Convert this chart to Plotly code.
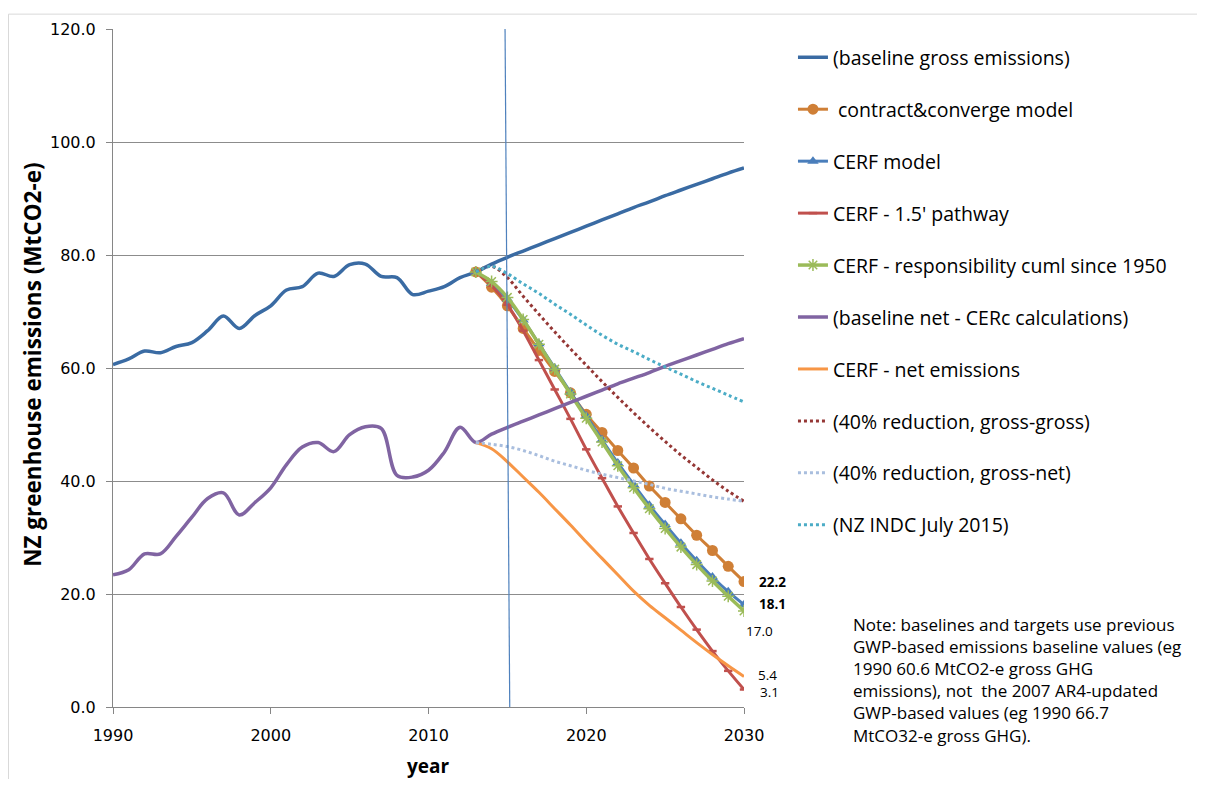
import plotly.graph_objects as go

# ---------------- data ----------------
years_hist = list(range(1990, 2014))
years_proj = list(range(2013, 2031))

gross_hist = [60.6, 61.6, 63.0, 62.7, 63.8, 64.5, 66.6, 69.2, 67.0, 69.3, 71.0, 73.8,
              74.4, 76.8, 76.2, 78.3, 78.4, 76.2, 76.0, 73.0, 73.6, 74.4, 76.0, 77.0]
gross_proj = [78.4, 79.6, 80.7, 81.8, 82.9, 84.0, 85.1, 86.2, 87.3, 88.4, 89.4, 90.5,
              91.5, 92.5, 93.5, 94.5, 95.4]  # 2014-2030

net_hist = [23.4, 24.3, 27.1, 27.1, 30.2, 33.6, 36.9, 37.9, 34.0, 36.2, 38.8, 42.9,
            46.0, 46.8, 45.2, 48.2, 49.6, 49.3, 41.0, 40.7, 41.9, 45.1, 49.5, 46.8]
net_proj = [48.3, 49.5, 50.6, 51.7, 52.8, 53.9, 55.0, 56.1, 57.2, 58.2, 59.2, 60.3,
            61.3, 62.3, 63.3, 64.3, 65.2]  # 2014-2030

cc_model = [77.0, 74.3, 71.0, 67.0, 63.1, 59.4, 55.6, 51.8, 48.6, 45.4, 42.3, 39.1,
            36.2, 33.3, 30.4, 27.7, 24.9, 22.2]
cerf_model = [77.0, 75.0, 72.2, 68.5, 64.3, 60.0, 55.7, 51.5, 47.3, 43.2, 39.4, 35.7,
              32.3, 29.0, 25.9, 23.0, 20.4, 18.1]
cerf_15 = [77.0, 74.6, 71.2, 66.6, 61.4, 56.2, 51.0, 45.6, 40.5, 35.5, 30.8, 26.2,
           21.9, 17.7, 13.7, 9.9, 6.4, 3.1]
cerf_resp = [77.0, 75.3, 72.5, 68.6, 64.2, 59.8, 55.4, 51.1, 46.9, 42.7, 38.8, 35.1,
             31.6, 28.3, 25.2, 22.3, 19.6, 17.0]
cerf_net = [46.8, 45.7, 43.4, 40.7, 38.0, 35.1, 32.2, 29.2, 26.3, 23.4, 20.5, 18.0,
            15.8, 13.6, 11.4, 9.3, 7.3, 5.4]
red40_gg = [77.0, 78.0, 76.0, 72.7, 69.5, 66.4, 63.4, 60.5, 57.6, 54.8, 52.1, 49.5,
            47.0, 44.6, 42.4, 40.2, 38.2, 36.4]
red40_gn = [46.8, 46.5, 46.1, 45.4, 44.5, 43.5, 42.7, 41.9, 41.2, 40.6, 40.0, 39.4,
            38.7, 38.2, 37.7, 37.2, 36.8, 36.4]
nz_indc = [77.0, 78.0, 76.7, 74.9, 73.2, 71.3, 69.5, 67.6, 65.8, 64.2, 62.9, 61.5,
           60.2, 58.9, 57.6, 56.4, 55.2, 54.0]

names = ["(baseline gross emissions)", "\u00a0contract&converge model", "CERF model",
         "CERF - 1.5' pathway", "CERF - responsibility cuml since 1950",
         "(baseline net - CERc calculations)", "CERF - net emissions",
         "(40% reduction, gross-gross)", "(40% reduction, gross-net)", "(NZ INDC July 2015)"]

end_labels = ["22.2", "18.1", "17.0", "5.4", "3.1"]
marker_year = 2015
y_ticks = [0, 20, 40, 60, 80, 100, 120]
x_ticks = [1990, 2000, 2010, 2020, 2030]

note = ("Note: baselines and targets use previous<br>GWP-based emissions baseline values (eg<br>"
        "1990 60.6 MtCO2-e gross GHG<br>emissions), not  the 2007 AR4-updated<br>"
        "GWP-based values (eg 1990 66.7<br>MtCO32-e gross GHG).")

# ---------------- figure ----------------
fig = go.Figure()
SP = dict(shape="spline", smoothing=1.0)
FONT = "Open Sans"


def add(x, y, name, color, width=3, dash="solid", marker=None, mode="lines", gid=0):
    fig.add_trace(go.Scatter(
        x=x, y=y, name=name, mode=mode,
        line=dict(color=color, width=width, dash=dash, **SP),
        marker=marker, legendgroup=f"g{gid}", hoverinfo="skip"))


add(years_hist + years_proj[1:], gross_hist + gross_proj, names[0], "#3A6BA3", 3.5, gid=0)
add(years_proj, cc_model, names[1], "#CF7F36", 3, mode="lines+markers",
    marker=dict(symbol="circle", size=11, color="#CF7F36"), gid=1)
add(years_proj, cerf_model, names[2], "#4A7EBB", 3, mode="lines+markers",
    marker=dict(symbol="triangle-up", size=10, color="#4A7EBB"), gid=2)
add(years_proj, cerf_15, names[3], "#C0504D", 3, mode="lines+markers",
    marker=dict(symbol="line-ew", size=6, color="#C0504D", line=dict(color="#C0504D", width=2.5)), gid=3)
add(years_proj, cerf_resp, names[4], "#9BBB59", 3.5, mode="lines+markers",
    marker=dict(symbol="asterisk", size=10, color="#9BBB59", line=dict(color="#9BBB59", width=1.5)), gid=4)
add(years_hist + years_proj[1:], net_hist + net_proj, names[5], "#8064A2", 3.5, gid=5)
add(years_proj, cerf_net, names[6], "#F79646", 3, gid=6)
add(years_proj, red40_gg, names[7], "#953735", 3, dash="dot", gid=7)
add(years_proj, red40_gn, names[8], "#A9BEDE", 3, dash="dot", gid=8)
add(years_proj, nz_indc, names[9], "#4BACC6", 3, dash="dot", gid=9)

# vertical marker line at 2015
fig.add_shape(type="line", xref="x", yref="y", x0=marker_year + 0.15, y0=0,
              x1=marker_year - 0.15, y1=121, line=dict(color="#4F81BD", width=1.2), layer="above")

# end-of-series labels
lab_specs = [
    (cc_model[-1], end_labels[0], True, 14, 0),
    (cerf_model[-1], end_labels[1], True, 14, 1),
    (cerf_resp[-1], end_labels[2], False, 1, -20),
    (cerf_net[-1], end_labels[3], False, 13, 1),
    (cerf_15[-1], end_labels[4], False, 15, -3),
]
for yv, txt, bold, xs, ys in lab_specs:
    fig.add_annotation(x=years_proj[-1], y=yv, text=txt, showarrow=False, xanchor="left",
                       xshift=xs, yshift=ys, borderpad=0,
                       font=dict(family=FONT, size=13.5, color="#000000",
                                 weight="bold" if bold else "normal"))

# note
fig.add_annotation(xref="paper", yref="paper", x=1.17, y=0.141, xanchor="left", yanchor="top",
                   text=note, showarrow=False, align="left",
                   font=dict(family=FONT, size=17, color="#000000"))

# axis titles as annotations for precise placement
fig.add_annotation(xref="paper", yref="paper", x=-0.128, y=0.505, xanchor="center",
                   yanchor="middle", textangle=-90,
                   text="NZ greenhouse emissions (MtCO2-e)", showarrow=False,
                   font=dict(family=FONT, size=22.5, color="#000000", weight="bold"))
fig.add_annotation(xref="paper", yref="paper", x=0.5, y=-0.1075, xanchor="center",
                   yanchor="bottom", text="year", showarrow=False, borderpad=0,
                   font=dict(family=FONT, size=19, color="#000000", weight="bold"))

# outer frame
fig.add_shape(type="rect", xref="paper", yref="paper",
              x0=(0.5 - 105) / 631, x1=(1192 - 105) / 631,
              y0=(699 - 773) / 684, y1=(699 - 0) / 684,
              line=dict(color="#D9D9D9", width=1), layer="below")

fig.update_layout(
    width=1189, height=771,
    margin=dict(l=105, r=453, t=15, b=72),
    paper_bgcolor="white", plot_bgcolor="white",
    showlegend=True,
    legend=dict(x=1.0776, y=0.9866, xanchor="left", yanchor="top",
                font=dict(family=FONT, size=19.5, color="#000000"),
                tracegroupgap=23.6, bgcolor="rgba(0,0,0,0)", itemwidth=30),
    xaxis=dict(range=[1990, 2030], tickvals=x_ticks, ticktext=[str(v) for v in x_ticks],
               showgrid=False, zeroline=False, showline=True, linecolor="#868686", linewidth=1,
               ticks="outside", ticklen=6, tickcolor="#868686",
               tickfont=dict(family="DejaVu Sans", size=16, color="#000000"),
               ticklabelstandoff=8),
    yaxis=dict(range=[0, 120], tickvals=y_ticks, ticktext=[f"{v:.1f}" for v in y_ticks],
               showgrid=True, gridcolor="#8C8C8C", gridwidth=1, zeroline=False,
               showline=True, linecolor="#868686", linewidth=1,
               ticks="outside", ticklen=6, tickcolor="#868686",
               tickfont=dict(family="DejaVu Sans", size=16, color="#000000"),
               ticklabelstandoff=7),
)

fig.write_html("out.html")
